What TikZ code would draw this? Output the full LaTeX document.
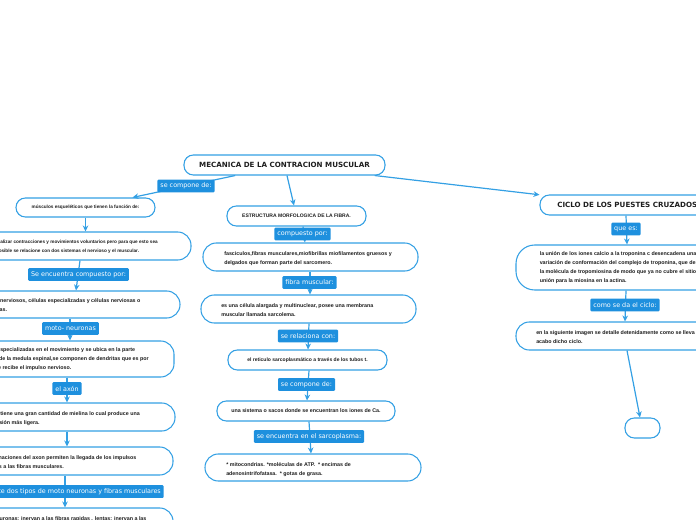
\documentclass[tikz,border=0pt]{standalone}
\usepackage{fontspec}
\setmainfont{Liberation Sans}
\newfontfamily\lblfont{DejaVu Sans}
\usetikzlibrary{arrows.meta}
\definecolor{edge}{RGB}{52,160,228}
\definecolor{lblfill}{RGB}{30,144,222}
\definecolor{ink}{RGB}{30,30,30}
\tikzset{
 box/.style={draw=edge, line width=0.8pt, rounded corners=7pt, fill=white, inner sep=0pt},
 bigbox/.style={box, rounded corners=10pt},
 sz/.style 2 args={minimum width=#1*0.75pt, minimum height=#2*0.75pt},
 body/.style={text=ink, font=\fontsize{4}{6.75}\selectfont\bfseries, align=left, inner sep=0pt},
 bodys/.style={body, font=\fontsize{3.5}{6.75}\selectfont\bfseries},
 bodym/.style={body, font=\fontsize{3.76}{6.75}\selectfont\bfseries},
 ttl/.style={text=ink, font=\lblfont\fontsize{5.35}{6}\selectfont\bfseries},
 lbl/.style={fill=lblfill, text=white, font=\lblfont\fontsize{4.8}{5.5}\selectfont, inner xsep=2.2pt, inner ysep=0pt, minimum height=9.5pt, rounded corners=0.8pt},
 conn/.style={draw=edge, line width=0.9pt, -{Stealth[length=4.5pt,width=4.2pt]}},
}
\begin{document}
\begin{tikzpicture}[x=0.75pt,y=-0.75pt]
\useasboundingbox (0,0) rectangle (696,520);
\clip (0,0) rectangle (696,520);
% ---------- boxes ----------
\node[box, sz={201}{20}, ttl] (title) at (284.5,165) {MECANICA DE LA CONTRACION MUSCULAR};
% left column
\node[box, sz={139}{19}, bodys, align=center] (n1) at (85.5,207.5) {músculos esqueléticos que tienen la función de:};
\node[bigbox, sz={221}{28}] (n2) at (80.5,246) {};
\node[bigbox, sz={210}{27}] (n3) at (75,304.5) {};
\node[bigbox, sz={204}{36}] (n4) at (72,359) {};
\node[bigbox, sz={205}{28}] (n5) at (72.5,417) {};
\node[bigbox, sz={203}{28}] (n6) at (71.5,461) {};
\node[bigbox, sz={203}{32}] (n7) at (71.5,524) {};
% center column
\node[box, sz={139}{20}, bodym, align=center] (c1) at (296.5,216) {ESTRUCTURA MORFOLOGICA DE LA FIBRA.};
\node[bigbox, sz={215}{28}] (c2) at (310.5,257) {};
\node[bigbox, sz={215}{28}] (c3) at (308.5,309) {};
\node[box, sz={159}{20}, bodym, align=center] (c4) at (307.5,360) {el reticulo sarcoplasmático a través de los tubos t.};
\node[box, sz={178}{20}, body, align=center] (c5) at (306,411) {una sistema o sacos donde se encuentran los iones de Ca.};
\node[bigbox, sz={216}{27}] (c6) at (313,467.5) {};
% right column
\node[box, sz={175}{20}] (r1) at (627.5,205) {};
\node[bigbox, sz={204}{45}, rounded corners=14pt] (r2) at (618,267.5) {};
\node[bigbox, sz={204}{28}] (r3) at (618,336) {};
\node[box, sz={35}{20}] (r4) at (642.5,428) {};
% ---------- texts ----------
\node[ttl, anchor=west, inner sep=0pt] (r1t) at (557,205) {CICLO DE LOS PUESTES CRUZADOS};
\node[bodys, anchor=east] (n2t) at (158,246.5) {realizar contracciones y movimientos voluntarios pero para que esto sea\\posible se relacione con dos sistemas el nervioso y el muscular.};
\node[body, anchor=east] (n3t) at (140.7,305.5) {tejidos nerviosos, células especializadas y células nerviosas o\\neuronas.};
\node[body, anchor=east] (n4t) at (149,359.5) {células especializadas en el movimiento y se ubica en la parte\\anterior de la medula espinal,se componen de dendritas que es por\\donde se recibe el impulso nervioso.};
\node[body, anchor=east] (n5t) at (140,418.3) {que contiene una gran cantidad de mielina lo cual produce una\\transmisión más ligera.};
\node[body, anchor=east] (n6t) at (136.7,462) {las terminaciones del axon permiten la llegada de los impulsos\\nerviosos a las fibras musculares.};
\node[body, anchor=east] (n7t) at (146.7,523.5) {neuronas: inervan a las fibras rapidas . lentas: inervan a las\\fibras lentas.};
\node[body, anchor=west] (c2t) at (224,258.3) {fasciculos,fibras musculares,miofibrillas miofilamentos gruesos y\\delgados que forman parte del sarcomero.};
\node[body, anchor=west] (c3t) at (221,310) {es una célula alargada y multinuclear, posee una membrana\\muscular llamada sarcolema.};
\node[body, anchor=west] (c6t) at (226,469.3) {* mitocondrias. *moléculas de ATP.\ \ * encimas de\\adenosintrifofatasa.\ \ * gotas de grasa.};
\node[body, anchor=west] (r2t) at (539.5,268) {la unión de los iones calcio a la troponina c desencadena una\\variación de conformación del complejo de troponina, que desplaza\\la molécula de tropomiosina de modo que ya no cubre el sitio de\\unión para la miosina en la actina.};
\node[body, anchor=west] (r3t) at (536,337.5) {en la siguiente imagen se detalle detenidamente como se lleva a\\acabo dicho ciclo.};
% ---------- connectors ----------
\draw[conn] (title) -- (n1);
\draw[conn] (title) -- (c1);
\draw[conn] (title) -- (r1);
\draw[conn] (n1.south) -- (n2.north -| n1.south);
\draw[conn] (n2.south -| 80,0) -- (n3.north -| 76,0);
\draw[conn] (n3.south -| 70,0) -- (n4.north -| 70,0);
\draw[conn] (n4.south -| 67,0) -- (n5.north -| 67,0);
\draw[conn] (n5.south -| 67,0) -- (n6.north -| 67,0);
\draw[conn] (n6.south -| 65,0) -- (n7.north -| 65,0);
\draw[conn] (c1.south -| 303,0) -- (c2.north -| 305,0);
\draw[conn] (c2.south -| 310,0) -- (c3.north -| 310,0);
\draw[conn] (c3.south -| 309,0) -- (c4.north -| 308,0);
\draw[conn] (c4.south -| 309,0) -- (c5.north -| 307,0);
\draw[conn] (c5.south -| 309,0) -- (c6.north -| 311,0);
\draw[conn] (r1.south -| 626,0) -- (r2.north -| 627,0);
\draw[conn] (r2.south -| 626,0) -- (r3.north -| 625,0);
\draw[conn] (r3.south -| 627,0) -- (r4.north -| 640,0);
% ---------- labels ----------
\node[lbl] (l1) at (186,186) {se compone de:};
\node[lbl] (l2) at (78.5,274.5) {Se encuentra compuesto por:};
\node[lbl] (l3) at (70.5,328.5) {moto- neuronas};
\node[lbl] (l4) at (67,388.5) {el axón};
\node[lbl, anchor=east] (l5) at (164,491.5) {existe dos tipos de moto neuronas y fibras musculares};
\node[lbl] (l6) at (302.5,234) {compuesto por:};
\node[lbl] (l7) at (309.5,282.5) {fibra muscular:};
\node[lbl] (l8) at (308,336) {se relaciona con:};
\node[lbl] (l9) at (306.5,384.5) {se compone de:};
\node[lbl] (l10) at (309,436.5) {se encuentra en el sarcoplasma:};
\node[lbl] (l11) at (626,229) {que es:};
\node[lbl] (l12) at (625,305) {como se da el ciclo:};
\end{tikzpicture}
\end{document}
